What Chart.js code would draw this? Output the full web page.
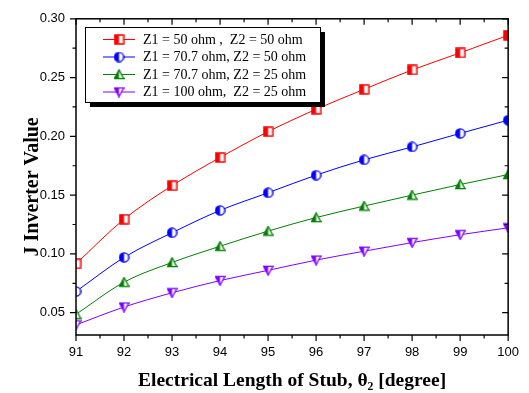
<!DOCTYPE html>
<html>
<head>
<meta charset="utf-8">
<script src="https://cdn.jsdelivr.net/npm/chart.js@4/dist/chart.umd.min.js"></script>
<style>
  body { margin: 0; background: #fff; }
  canvas { display: block; }
</style>
</head>
<body>
<canvas id="chart" width="529" height="393"></canvas>
<script>
// Chart data
const theta = [91, 92, 93, 94, 95, 96, 97, 98, 99, 100];
const j50_50 = [0.0916, 0.1295, 0.158, 0.182, 0.204, 0.223, 0.240, 0.2565, 0.271, 0.286];
const j707_50 = [0.068, 0.097, 0.118, 0.137, 0.152, 0.167, 0.180, 0.191, 0.2025, 0.2138];
const j707_25 = [0.0486, 0.0759, 0.0927, 0.1065, 0.1194, 0.1309, 0.1407, 0.150, 0.159, 0.1675];
const j100_25 = [0.0396, 0.0548, 0.0669, 0.0773, 0.086, 0.0947, 0.1023, 0.1096, 0.1163, 0.1222];
const seriesLabels = [
  'Z1 = 50 ohm ,  Z2 = 50 ohm',
  'Z1 = 70.7 ohm, Z2 = 50 ohm',
  'Z1 = 70.7 ohm, Z2 = 25 ohm',
  'Z1 = 100 ohm,  Z2 = 25 ohm'
];
const xTicks = [91, 92, 93, 94, 95, 96, 97, 98, 99, 100];
const yTicks = [0.05, 0.10, 0.15, 0.20, 0.25, 0.30];

const colors = ['#ff0000', '#0000ff', '#008000', '#8000ff'];
const shapes = ['square', 'circle', 'triangle', 'down'];

// Half-filled marker (left half filled, like Origin)
function makeMarker(shape, color) {
  const s = 11;
  const c = document.createElement('canvas');
  c.width = s; c.height = s;
  const g = c.getContext('2d');
  const path = () => {
    g.beginPath();
    if (shape === 'square') {
      g.rect(1, 1, 9, 9);
    } else if (shape === 'circle') {
      g.arc(5.5, 5.5, 4.6, 0, Math.PI * 2);
    } else if (shape === 'triangle') {
      g.moveTo(5.5, 0.8); g.lineTo(10.2, 9.6); g.lineTo(0.8, 9.6); g.closePath();
    } else {
      g.moveTo(0.8, 1.4); g.lineTo(10.2, 1.4); g.lineTo(5.5, 10.2); g.closePath();
    }
  };
  path();
  g.fillStyle = '#fff';
  g.fill();
  g.save();
  g.beginPath();
  g.rect(0, 0, 5.5, s);
  g.clip();
  path();
  g.fillStyle = color;
  g.fill();
  g.restore();
  path();
  g.strokeStyle = color;
  g.lineWidth = 1.3;
  g.stroke();
  return c;
}

const markers = shapes.map((sh, i) => makeMarker(sh, colors[i]));
const seriesData = [j50_50, j707_50, j707_25, j100_25];

const datasets = seriesData.map((vals, i) => ({
  label: seriesLabels[i],
  data: theta.map((t, k) => ({ x: t, y: vals[k] })),
  borderColor: colors[i],
  backgroundColor: colors[i],
  borderWidth: 1,
  pointStyle: markers[i],
  pointRadius: 5,
  cubicInterpolationMode: 'monotone',
  clip: 0
}));

// Frame and tick marks: bottom/left outward, top/right inward
const framePlugin = {
  id: 'frame',
  afterDatasetsDraw(chart) {
    const { ctx, chartArea: a, scales } = chart;
    const xs = scales.x, ys = scales.y;
    ctx.save();
    ctx.strokeStyle = '#000';
    ctx.lineWidth = 1.5;
    ctx.strokeRect(a.left, a.top, a.right - a.left, a.bottom - a.top);
    ctx.lineWidth = 1.2;
    const major = 6, minor = 3.5;
    const xMinor = xTicks.slice(1).map((v, i) => (v + xTicks[i]) / 2);
    const yMinor = yTicks.slice(1).map((v, i) => (v + yTicks[i]) / 2).concat([yTicks[0] - 0.025]);
    ctx.beginPath();
    xTicks.forEach(v => {
      const px = xs.getPixelForValue(v);
      ctx.moveTo(px, a.bottom); ctx.lineTo(px, a.bottom + major);
      ctx.moveTo(px, a.top); ctx.lineTo(px, a.top + major);
    });
    xMinor.forEach(v => {
      const px = xs.getPixelForValue(v);
      ctx.moveTo(px, a.bottom); ctx.lineTo(px, a.bottom + minor);
      ctx.moveTo(px, a.top); ctx.lineTo(px, a.top + minor);
    });
    yTicks.forEach(v => {
      const py = ys.getPixelForValue(v);
      ctx.moveTo(a.left, py); ctx.lineTo(a.left - major, py);
      ctx.moveTo(a.right, py); ctx.lineTo(a.right - major, py);
    });
    yMinor.forEach(v => {
      if (v < ys.min) return;
      const py = ys.getPixelForValue(v);
      ctx.moveTo(a.left, py); ctx.lineTo(a.left - minor, py);
      ctx.moveTo(a.right, py); ctx.lineTo(a.right - minor, py);
    });
    ctx.stroke();
    ctx.restore();
  }
};

// Legend box with drop shadow
const legendPlugin = {
  id: 'boxLegend',
  afterDatasetsDraw(chart) {
    const ctx = chart.ctx;
    const bx = 85, by = 27, bw = 235, bh = 75, sh = 5;
    ctx.save();
    ctx.fillStyle = '#000';
    ctx.fillRect(bx + sh, by + sh, bw, bh);
    ctx.fillStyle = '#fff';
    ctx.fillRect(bx, by, bw, bh);
    ctx.strokeStyle = '#000';
    ctx.lineWidth = 1;
    ctx.strokeRect(bx + 0.5, by + 0.5, bw, bh);
    ctx.font = '14px "Liberation Serif", "Times New Roman", serif';
    ctx.textBaseline = 'middle';
    ctx.fillStyle = '#000';
    seriesLabels.forEach((lbl, i) => {
      const y = 39.5 + i * 17.5;
      ctx.strokeStyle = colors[i];
      ctx.beginPath();
      ctx.moveTo(103, y); ctx.lineTo(135, y);
      ctx.stroke();
      ctx.drawImage(markers[i], 119 - 5.5, y - 5.5);
      ctx.fillText(lbl, 143, y + 0.5);
    });
    ctx.restore();
  }
};

new Chart(document.getElementById('chart'), {
  type: 'line',
  data: { datasets },
  options: {
    responsive: false,
    animation: false,
    layout: { padding: { top: 15, right: 17, bottom: 0, left: 0 } },
    plugins: { legend: { display: false }, tooltip: { enabled: false } },
    scales: {
      x: {
        type: 'linear',
        min: 91,
        max: 100,
        afterBuildTicks: s => { s.ticks = xTicks.map(v => ({ value: v })); },
        afterFit: s => { s.height = 58; },
        grid: { display: false, drawTicks: false },
        border: { display: false },
        ticks: {
          color: '#000',
          padding: 10,
          maxRotation: 0,
          font: { family: '"Liberation Sans", Arial, sans-serif', size: 13 }
        },
        title: {
          display: true,
          text: 'Electrical Length of Stub, θ₂ [degree]',
          color: '#000',
          padding: { top: 0, bottom: 0 },
          font: { family: '"Liberation Serif", "Times New Roman", serif', size: 19.5, weight: 'bold' }
        }
      },
      y: {
        min: 0.031,
        max: 0.30,
        afterBuildTicks: s => { s.ticks = yTicks.map(v => ({ value: v })); },
        afterFit: s => { s.width = 76; },
        grid: { display: false, drawTicks: false },
        border: { display: false },
        ticks: {
          color: '#000',
          padding: 11,
          callback: v => v.toFixed(2),
          font: { family: '"Liberation Sans", Arial, sans-serif', size: 13 }
        },
        title: {
          display: true,
          text: 'J Inverter Value    ',
          color: '#000',
          padding: { top: 21, bottom: 0 },
          font: { family: '"Liberation Serif", "Times New Roman", serif', size: 20, weight: 'bold' }
        }
      }
    }
  },
  plugins: [framePlugin, legendPlugin]
});
</script>
</body>
</html>
